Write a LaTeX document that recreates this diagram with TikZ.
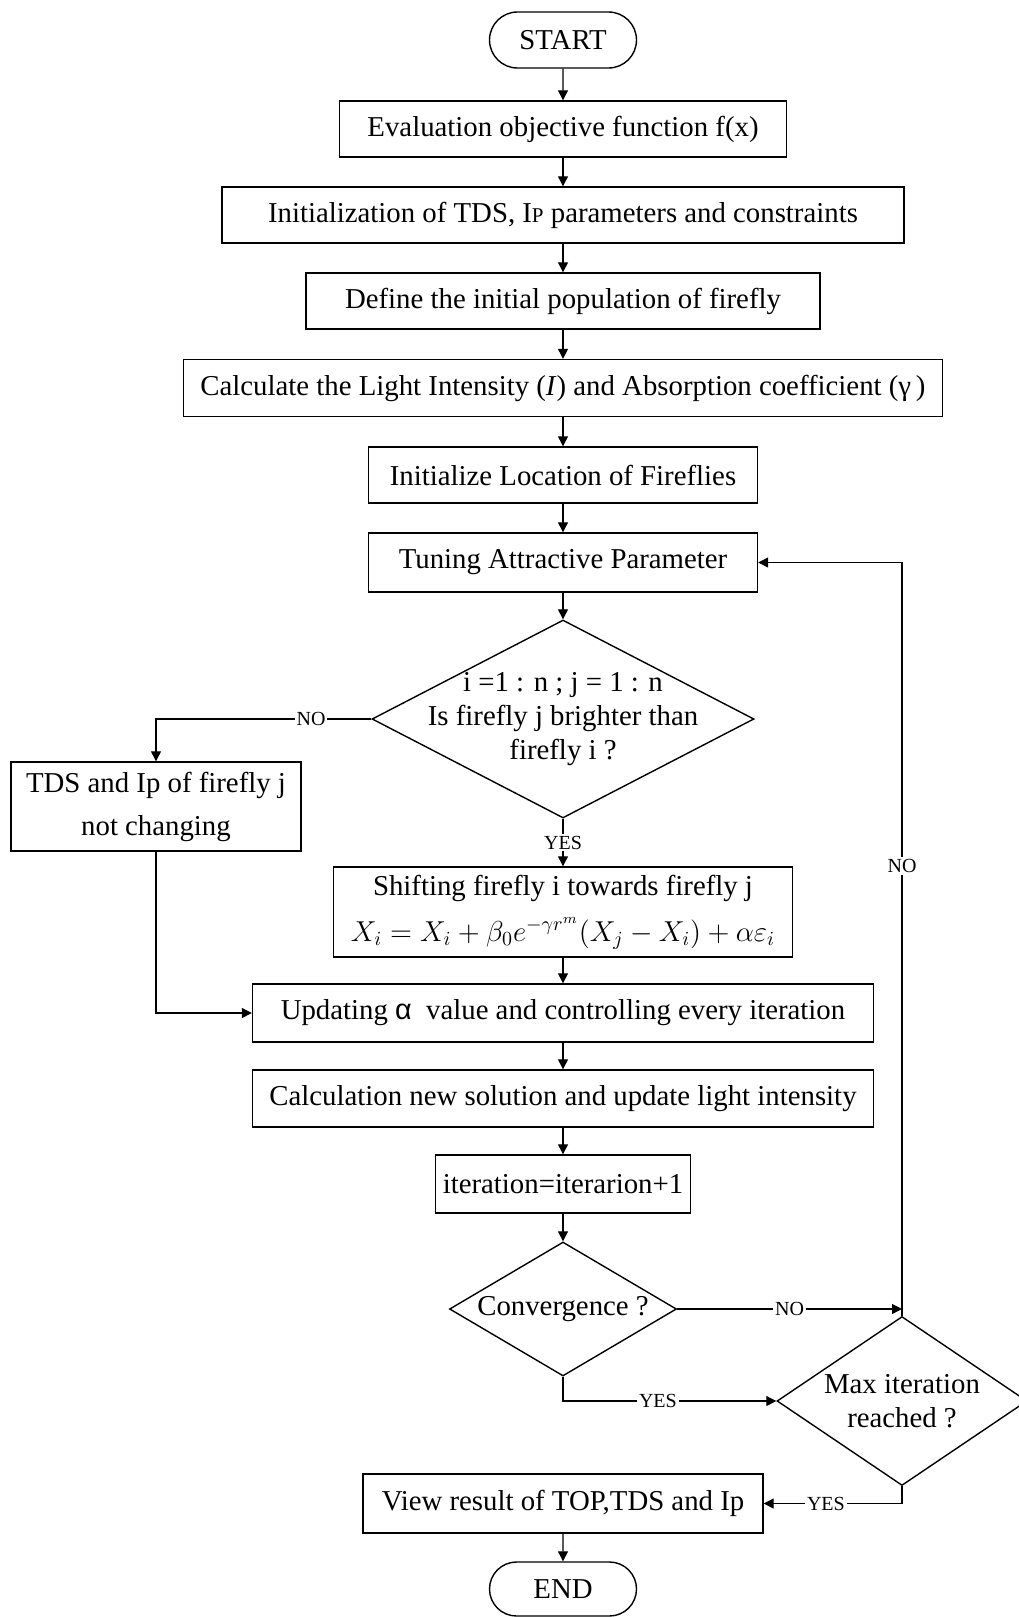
\documentclass[tikz,border=0pt]{standalone}
\usepackage{fontspec}
\setmainfont{Liberation Serif}
\newfontfamily\alphafont{Liberation Sans}
\usetikzlibrary{shapes.geometric,shapes.misc,arrows.meta}
\begin{document}
\begin{tikzpicture}[x=0.5pt,y=-0.5pt,
  every node/.style={font=\fontsize{14.4}{17}\selectfont},
  box/.style={draw, line width=0.7pt, rectangle, inner sep=2pt, align=center},
  term/.style={draw, line width=0.7pt, rounded rectangle, inner sep=0pt, minimum width=73.5pt, minimum height=28pt},
  dia/.style={draw, line width=0.7pt, diamond, inner sep=0pt},
  arr/.style={line width=0.6pt, -{Triangle[length=5pt,width=5pt]}},
  lab/.style={fill=white, inner sep=1pt, font=\fontsize{10}{12}\selectfont},
]
\useasboundingbox (0,0) rectangle (1018,1617);

\node[term] (start) at (563,40) {START};
\node[box, minimum width=223.5pt, minimum height=28pt] (b1) at (563,129) {Evaluation objective function f(x)};
\node[box, minimum width=341pt, minimum height=28pt] (b2) at (563,215) {Initialization of TDS, I{\fontsize{10.5}{10.5}\selectfont P} parameters and constraints};
\node[box, minimum width=257pt, minimum height=28pt] (b3) at (563,301) {Define the initial population of firefly};
\node[box, minimum width=379.5pt, minimum height=28.5pt] (b4) at (563,388) {Calculate the Light Intensity (\textit{I}) and Absorption coefficient (γ\,)};
\node[box, minimum width=194.5pt, minimum height=28pt] (b5) at (563,475) {Initialize Location of Fireflies};
\node[box, minimum width=194.5pt, minimum height=29.5pt] (b6) at (563,562.5) {Tuning Attractive Parameter};
\node[dia, minimum width=191pt, minimum height=99pt,
  label={[align=center, font=\fontsize{14.4}{16.8}\selectfont]center:{i =1 : n ; j = 1 : n\\Is firefly j brighter than\\firefly i ?}}] (d1) at (563,719) {};
\node[box, minimum width=145pt, minimum height=44.5pt, font=\fontsize{14.4}{21.5}\selectfont] (tds) at (156,806.5) {TDS and Ip of firefly j\\not changing};
\node[box, minimum width=229.5pt, minimum height=45pt, font=\fontsize{14.4}{23}\selectfont] (shift) at (563,912) {Shifting firefly i towards firefly j\\$X_{i} = X_{i} + \beta_{0} e^{-\gamma r^{m}} \bigl( X_{j} - X_{i} \bigr) + \alpha\varepsilon_{i}$};
\node[box, minimum width=310.5pt, minimum height=29pt] (upd) at (563,1013) {Updating {\alphafont α}\ \ value and controlling every iteration};
\node[box, minimum width=310.5pt, minimum height=28.5pt] (calc) at (563,1098.5) {Calculation new solution and update light intensity};
\node[box, minimum width=127.5pt, minimum height=29pt] (iter) at (563,1184) {iteration=iterarion+1};
\node[dia, minimum width=113.5pt, minimum height=67pt, label={center:Convergence ?}] (conv) at (563,1309) {};
\node[dia, minimum width=125pt, minimum height=84.5pt,
  label={[align=center, font=\fontsize{14.4}{16.8}\selectfont]center:{Max iteration\\reached ?}}] (max) at (902,1401) {};
\node[box, minimum width=200pt, minimum height=29.5pt] (view) at (563,1503.5) {View result of TOP,TDS and Ip};
\node[term, minimum height=27pt] (end) at (563,1589) {END};

\foreach \a/\b in {start/b1,b1/b2,b2/b3,b3/b4,b4/b5,b5/b6,b6/d1,shift/upd,upd/calc,calc/iter,iter/conv,view/end}
  \draw[arr] (\a) -- (\b);
\draw[arr] (d1.south) -- node[lab]{YES} (shift.north);
\draw[arr] (d1.west) -- node[lab, pos=0.28]{NO} (d1.west -| tds.north) -- (tds.north);
\draw[arr] (tds.south) -- (tds.south |- upd.west) -- (upd.west);
\draw[arr] (conv.east) -- node[lab]{NO} (conv.east -| max.north);
\draw[arr] (max.north) -- node[lab, pos=0.597]{NO} (max.north |- b6.east) -- (b6.east);
\draw[arr] (conv.south) -- (conv.south |- max.west) -- node[lab, pos=0.445]{YES} (max.west);
\draw[arr] (max.south) -- (max.south |- view.east) -- node[lab, pos=0.55]{YES} (view.east);
\end{tikzpicture}
\end{document}
